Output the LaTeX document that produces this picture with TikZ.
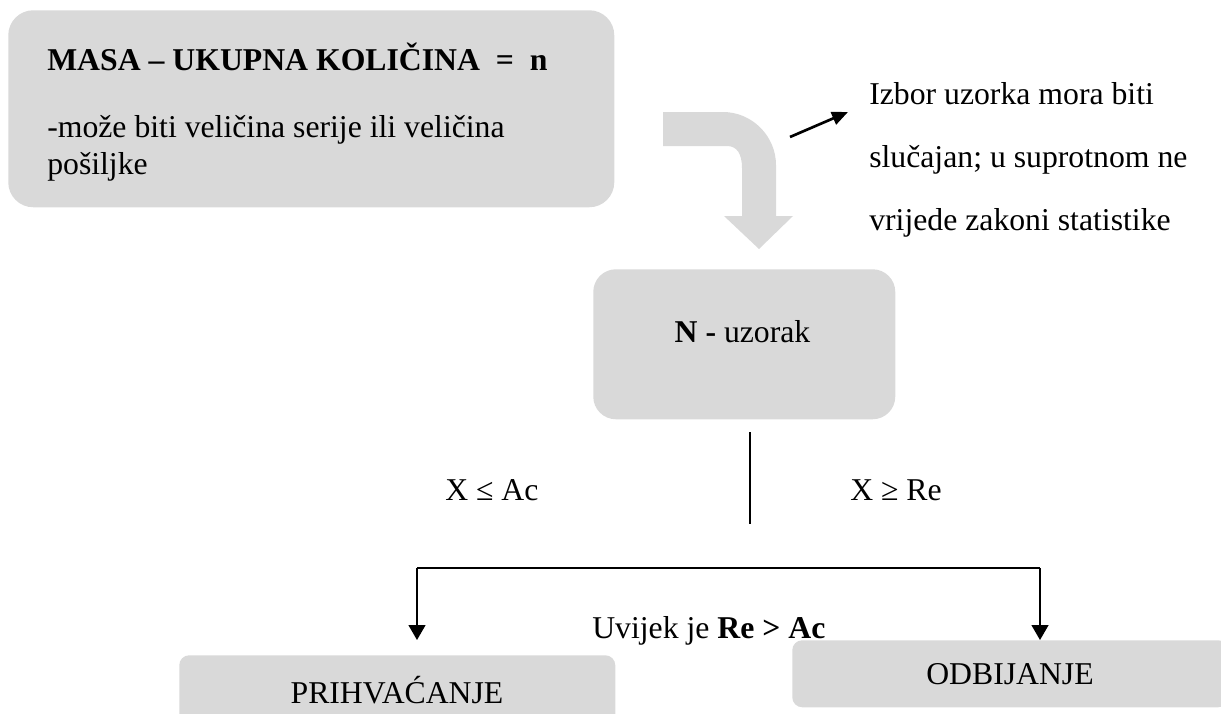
\documentclass[tikz,border=0pt]{standalone}
\usepackage{fontspec}
\setmainfont{Liberation Serif}
\usetikzlibrary{arrows.meta}
\definecolor{boxgray}{HTML}{D9D9D9}
\begin{document}
\begin{tikzpicture}[x=0.75pt,y=-0.75pt,
  graybox/.style={fill=boxgray, draw=none, inner sep=0, anchor=north west},
  txt/.style={inner sep=0, anchor=base west, font=\fontsize{23.8}{28}\selectfont},
  ctxt/.style={inner sep=0, anchor=base, font=\fontsize{23.8}{28}\selectfont},
  conn/.style={line width=1pt, draw=black},
  tip/.style={-{Triangle[width=12.75pt,length=11.25pt]}}
]
\useasboundingbox (0,0) rectangle (1221,714);
\clip (0,0) rectangle (1221,714);

% boxes
\node[graybox, minimum width=454.5pt, minimum height=147.75pt, rounded corners=18.75pt] (masa) at (8,10) {};
\node[graybox, minimum width=226.5pt, minimum height=112.5pt, rounded corners=17pt] (uzorak) at (593,269) {};
\node[graybox, minimum width=327pt, minimum height=55.5pt, rounded corners=7.5pt] (prih) at (179,655) {};
\node[graybox, minimum width=327pt, minimum height=50.25pt, rounded corners=7.5pt] (odb) at (792,640) {};

% curved block arrow
\fill[boxgray] (663,112) -- (723,112) .. controls (752,112) and (776,136) .. (776,165)
  -- (776,216) -- (793,216) -- (759,249) -- (724,216) -- (742,216) -- (742,168)
  .. controls (742,154) and (737,146) .. (727,146) -- (663,146) -- cycle;

% texts in top box
\node[txt, font=\fontsize{23.8}{28}\selectfont\bfseries] (title) at (47,70) {MASA – UKUPNA KOLIČINA \ = \ n};
\node[txt] (body1) at (47,137) {-može biti veličina serije ili veličina};
\node[txt] (body2) at (47,174) {pošiljke};

% right text
\node[txt] (iz1) at (869,104) {Izbor uzorka mora biti};
\node[txt] (iz2) at (869,167) {slučajan; u suprotnom ne};
\node[txt] (iz3) at (869,230) {vrijede zakoni statistike};

% small arrow
\coordinate (sa0) at (790,137);
\coordinate (sa1) at (848,112);
\draw[line width=2pt, -{Triangle[width=10pt,length=12pt]}] (sa0) -- (sa1);

% middle box text
\node[ctxt] (ntxt) at (742.5,342) {\textbf{N -} uzorak};

% vertical line
\coordinate (v0) at (750,432);
\coordinate (v1) at (750,524);
\draw[conn] (v0) -- (v1);

\node[txt] (xac) at (445,500) {X ≤ Ac};
\node[txt] (xre) at (850,500) {X ≥ Re};

% split connector
\coordinate (hl) at (417,568);
\coordinate (hr) at (1040,568);
\coordinate (tl) at (417,640);
\coordinate (tr) at (1040,640);
\draw[conn] (hl) -- (hr);
\draw[conn, tip] (hl) -- (tl);
\draw[conn, tip] (hr) -- (tr);

\node[txt] (uvijek) at (592,638) {Uvijek je \textbf{Re > Ac}};

\node[ctxt] (ptxt) at (397,703) {PRIHVAĆANJE};
\node[ctxt] (otxt) at (1010,684) {ODBIJANJE};
\end{tikzpicture}
\end{document}
